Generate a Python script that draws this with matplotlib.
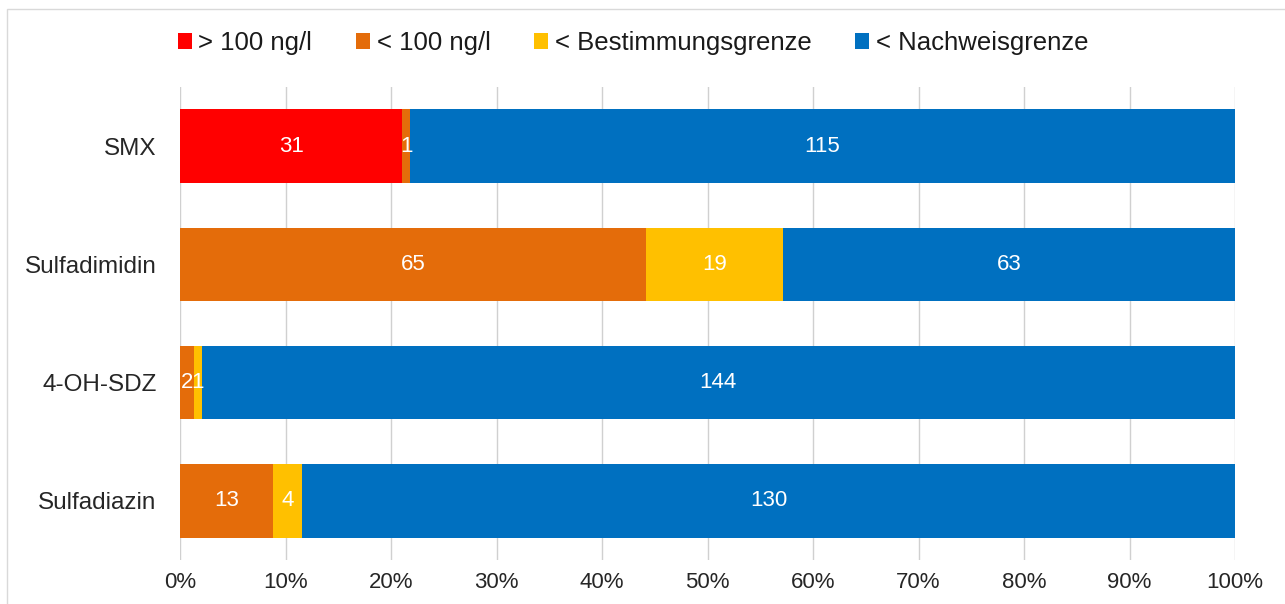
import matplotlib.pyplot as plt
from matplotlib.patches import Rectangle
import numpy as np

plt.rcParams['font.family'] = ['Liberation Sans', 'DejaVu Sans']

# Kategorien von oben nach unten
substanzen = ["SMX", "Sulfadimidin", "4-OH-SDZ", "Sulfadiazin"]
ueber_100 = [31, 0, 0, 0]
unter_100 = [1, 65, 2, 13]
unter_bg = [0, 19, 1, 4]
unter_ng = [115, 63, 144, 130]

serien = ["> 100 ng/l", "< 100 ng/l", "< Bestimmungsgrenze", "< Nachweisgrenze"]
farben = ["#FF0000", "#E46C0A", "#FFC000", "#0070C0"]

fig = plt.figure(figsize=(12.85, 6.04), dpi=100)
fig.patches.append(Rectangle((7 / 1285, -0.1), 1.2, 1 - 9 / 604 + 0.1,
                             transform=fig.transFigure, fill=False,
                             edgecolor="#d9d9d9", linewidth=1))
ax = fig.add_axes([180 / 1285, 1 - 560 / 604, 1055 / 1285, 473 / 604])

daten = np.array([ueber_100, unter_100, unter_bg, unter_ng], dtype=float)
summe = daten.sum(axis=0)
anteil = daten / summe
y = np.arange(len(substanzen))

links = np.zeros(len(substanzen))
for i in range(len(serien)):
    ax.barh(y, anteil[i], left=links, height=0.62, color=farben[i],
            label=serien[i], zorder=2)
    for j in range(len(substanzen)):
        if daten[i, j] > 0:
            ax.text(links[j] + anteil[i, j] / 2, y[j], str(int(daten[i, j])),
                    ha="center", va="center", color="white", fontsize=16,
                    zorder=3)
    links += anteil[i]

ax.set_ylim(len(substanzen) - 0.5, -0.5)
ax.set_xlim(0, 1)
ax.set_xticks(np.linspace(0, 1, 11))
ax.set_xticklabels([f"{int(round(v * 100))}%" for v in np.linspace(0, 1, 11)])
ax.set_yticks(y)
ax.set_yticklabels(substanzen)
ax.tick_params(length=0, colors="#262626")
ax.tick_params(axis="x", pad=9, labelsize=16)
ax.tick_params(axis="y", pad=17, labelsize=17.5)
ax.grid(axis="x", color="#d0d0d0", linewidth=1, zorder=0)
for s in ax.spines.values():
    s.set_visible(False)

fig.legend(loc="center", bbox_to_anchor=(633 / 1285, 1 - 43 / 604), ncol=4,
           frameon=False, fontsize=18.5, handlelength=0.55, handleheight=0.55,
           handletextpad=0.25, columnspacing=1.7, labelcolor="#1a1a1a")

fig.savefig("out.png", dpi=100)
